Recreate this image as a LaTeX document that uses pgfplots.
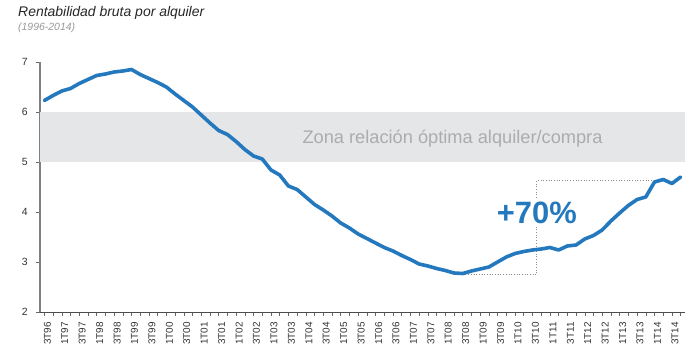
\documentclass[border=0pt]{standalone}
\usepackage{fontspec}
\setmainfont{Liberation Sans}
\usepackage{pgfplots}
\pgfplotsset{compat=1.18}
\definecolor{lineblue}{RGB}{36,121,190}
\definecolor{band}{RGB}{229,230,232}
\definecolor{zonetext}{RGB}{172,172,172}
\begin{document}
\begin{tikzpicture}
\useasboundingbox (-40bp,-48bp) rectangle (658bp,312bp);
\begin{axis}[
 at={(0,0)}, anchor=south west,
 scale only axis, width=645bp, height=250bp,
 xmin=-0.5, xmax=73.5, ymin=2, ymax=7,
 axis x line=bottom, axis y line=left,
 x axis line style={-, draw=black!70, line width=0.6bp},
 y axis line style={-, draw=black!50, line width=1.6bp},
 ytick={2,3,4,5,6,7},
 xtick={0,2,...,72},
 minor xtick={1,3,...,73},
 xticklabels={3T96,1T97,3T97,1T98,3T98,1T99,3T99,1T00,3T00,1T01,3T01,1T02,3T02,1T03,3T03,1T04,3T04,1T05,3T05,1T06,3T06,1T07,3T07,1T08,3T08,1T09,3T09,1T10,3T10,1T11,3T11,1T12,3T12,1T13,3T13,1T14,3T14},
 tick align=outside,
 major tick length=4bp, minor tick length=4bp,
 tick style={draw=black!60, line width=0.5bp},
 xticklabel style={rotate=90, anchor=east, font=\fontsize{10}{11}\selectfont, text=black!80, inner sep=1bp, xshift=-5bp, yshift=-3bp},
 yticklabel style={font=\fontsize{10.5}{11}\selectfont, text=black!80, inner sep=1bp, xshift=-7bp},
 /pgf/number format/assume math mode=true,
 clip=false,
]
\addplot[fill=band, draw=none] coordinates {(-0.5,5) (73.5,5) (73.5,6) (-0.5,6)} -- cycle;
\node[anchor=base west, inner sep=0pt, text=zonetext, font=\fontsize{18.3}{20}\selectfont] at (axis cs:29.6,5.37) {Zona relación óptima alquiler/compra};
\addplot[draw=black!45, dotted, line width=0.7bp] coordinates {(48,2.75) (56.5,2.75) (56.5,4.64) (70,4.64)};
\addplot[lineblue, line width=3.6bp, line join=round, line cap=round] table {
0 6.23
1 6.33
2 6.42
3 6.47
4 6.57
5 6.65
6 6.73
7 6.76
8 6.80
9 6.82
10 6.85
11 6.75
12 6.67
13 6.59
14 6.50
15 6.36
16 6.23
17 6.10
18 5.94
19 5.78
20 5.63
21 5.55
22 5.41
23 5.25
24 5.12
25 5.06
26 4.84
27 4.74
28 4.52
29 4.45
30 4.30
31 4.15
32 4.04
33 3.92
34 3.78
35 3.68
36 3.56
37 3.47
38 3.38
39 3.29
40 3.22
41 3.13
42 3.05
43 2.96
44 2.92
45 2.87
46 2.83
47 2.78
48 2.77
49 2.82
50 2.86
51 2.90
52 3.00
53 3.10
54 3.17
55 3.21
56 3.24
57 3.26
58 3.29
59 3.24
60 3.32
61 3.34
62 3.46
63 3.53
64 3.64
65 3.82
66 3.98
67 4.13
68 4.25
69 4.30
70 4.60
71 4.65
72 4.57
73 4.70
};
\node[fill=white, inner sep=2bp, text=lineblue, font=\bfseries\fontsize{31}{32}\selectfont] at (axis cs:56.5,3.99) {+70\%};
\end{axis}
\node[anchor=base west, inner sep=0pt, text=black!85, font=\itshape\fontsize{14}{16}\selectfont] at (-22bp,295bp) {Rentabilidad bruta por alquiler};
\node[anchor=base west, inner sep=0pt, text=black!40, font=\itshape\fontsize{10.5}{12}\selectfont] at (-22bp,281bp) {(1996-2014)};
\end{tikzpicture}
\end{document}
